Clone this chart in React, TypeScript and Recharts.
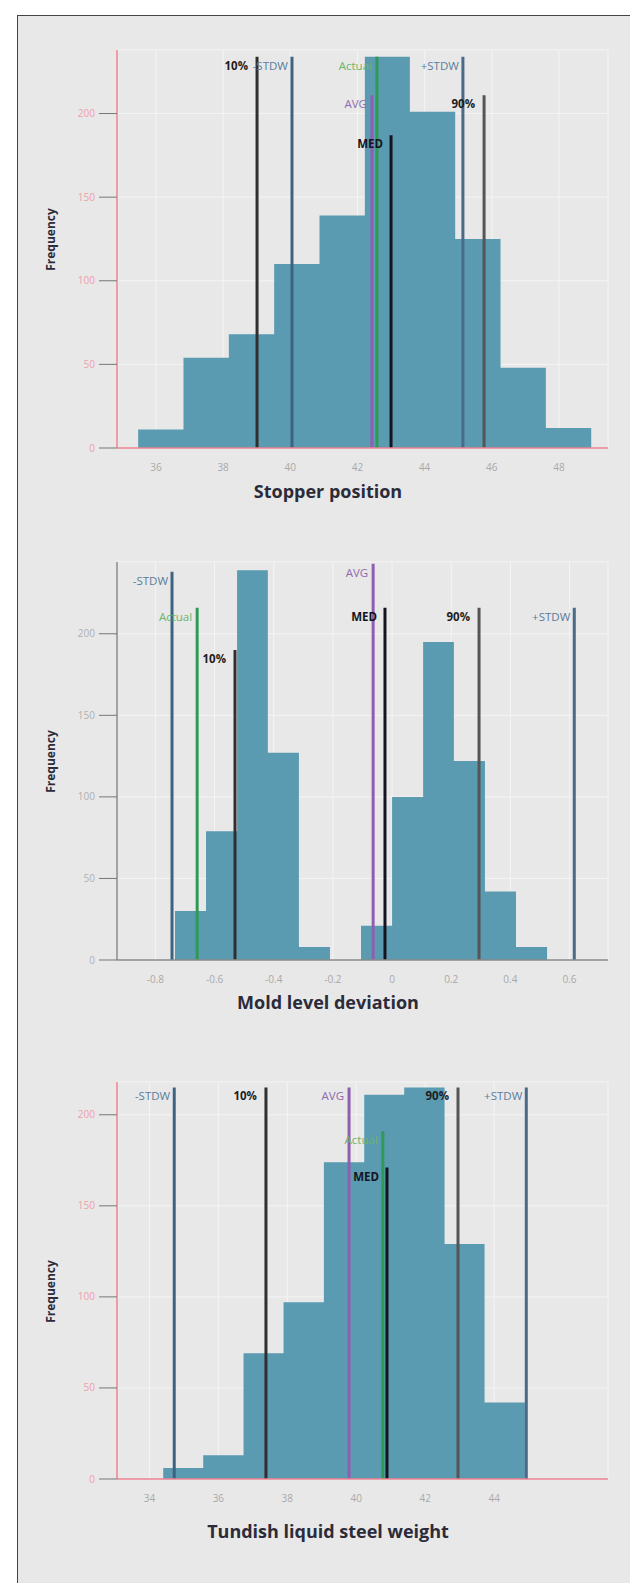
import React from 'react';
import { ComposedChart, Area, XAxis, YAxis, CartesianGrid, ReferenceLine } from 'recharts';

// Stopper position histogram
const stopperEdges = [35.47, 36.82, 38.17, 39.52, 40.87, 42.22, 43.56, 44.91, 46.26, 47.61, 48.96];
const stopperCounts = [11, 54, 68, 110, 139, 234, 201, 125, 48, 12];
const stopperTicks = [36, 38, 40, 42, 44, 46, 48];

// Mold level deviation histogram
const moldEdges = [-0.734, -0.629, -0.524, -0.42, -0.315, -0.21, -0.105, 0, 0.105, 0.209, 0.314, 0.419, 0.524];
const moldCounts = [30, 79, 239, 127, 8, 0, 21, 100, 195, 122, 42, 8];
const moldTicks = [-0.8, -0.6, -0.4, -0.2, 0, 0.2, 0.4, 0.6];

// Tundish liquid steel weight histogram
const tundishEdges = [34.4, 35.56, 36.73, 37.89, 39.06, 40.23, 41.39, 42.56, 43.72, 44.89];
const tundishCounts = [6, 13, 69, 97, 174, 211, 215, 129, 42];
const tundishTicks = [34, 36, 38, 40, 42, 44];

const freqTicks = [0, 50, 100, 150, 200];

// marker lines, same order for every chart
const markerNames = ['10%', '-STDW', 'AVG', 'Actual', 'MED', '+STDW', '90%'];
const stopperMarkerX = [39.01, 40.05, 42.43, 42.58, 43.0, 45.14, 45.77];
const stopperMarkerTop = [234, 234, 211, 234, 187, 234, 211];
const moldMarkerX = [-0.531, -0.744, -0.064, -0.659, -0.024, 0.616, 0.294];
const moldMarkerTop = [190, 238, 243, 216, 216, 216, 216];
const tundishMarkerX = [37.38, 34.72, 39.79, 40.77, 40.89, 44.93, 42.95];
const tundishMarkerTop = [215, 215, 215, 191, 171, 215, 215];

const markerStyle: Record<string, { line: string; text: string; weight: number; gap: number }> = {
  '10%': { line: '#2f2f2f', text: '#1e1e1e', weight: 700, gap: 9 },
  '-STDW': { line: '#3d6380', text: '#5a7c9c', weight: 400, gap: 4 },
  AVG: { line: '#8e5fb0', text: '#8e6aae', weight: 400, gap: 5 },
  Actual: { line: '#2f9a55', text: '#6ab46c', weight: 400, gap: 5 },
  MED: { line: '#141420', text: '#141420', weight: 700, gap: 8 },
  '+STDW': { line: '#4a6a88', text: '#5a7c9c', weight: 400, gap: 4 },
  '90%': { line: '#555555', text: '#1e1e1e', weight: 700, gap: 9 },
};

const BAR = '#5a9bb1';
const FONT = '"Open Sans", Lato, sans-serif';

const markerLabel = (name: string) => (props: any) => {
  const vb = props.viewBox || {};
  const st = markerStyle[name];
  return (
    <text
      x={vb.x - st.gap}
      y={vb.y + 13}
      textAnchor="end"
      fill={st.text}
      fontSize={11.5}
      fontWeight={st.weight}
      fontFamily={FONT}
    >
      {name}
    </text>
  );
};

interface HistProps {
  edges: number[];
  counts: number[];
  ticks: number[];
  xDomain: [number, number];
  yMax: number;
  markerX: number[];
  markerTop: number[];
  plotTop: number;
  plotBottom: number;
  axisColor: string;
  yTickColor: string;
  title: string;
  titleY: number;
  freqY: number;
}

function Histogram(p: HistProps) {
  const data = p.edges.map((e, i) => ({ x: e, count: p.counts[Math.min(i, p.counts.length - 1)] }));
  const marginTop = 20;
  const height = marginTop + (p.plotBottom - p.plotTop) + 30;
  return (
    <>
      <div style={{ position: 'absolute', left: 0, top: p.plotTop - marginTop }}>
        <ComposedChart
          width={638}
          height={height}
          data={data}
          margin={{ top: marginTop, right: 30, bottom: 0, left: 57 }}
        >
          <CartesianGrid stroke="#f4f4f4" />
          <XAxis
            dataKey="x"
            type="number"
            domain={p.xDomain}
            ticks={p.ticks}
            allowDataOverflow
            height={30}
            tickLine={false}
            tickMargin={10}
            axisLine={{ stroke: p.axisColor, strokeWidth: 1.5 }}
            tick={{ fill: '#a8a8a8', fontSize: 10, fontFamily: FONT }}
          />
          <YAxis
            type="number"
            domain={[0, p.yMax]}
            ticks={freqTicks}
            allowDataOverflow
            width={60}
            tickSize={18}
            tickMargin={4}
            axisLine={{ stroke: p.axisColor, strokeWidth: 1.5 }}
            tickLine={{ stroke: '#777' }}
            tick={{ fill: p.yTickColor, fontSize: 10, fontFamily: FONT }}
          />
          <Area
            dataKey="count"
            type="stepAfter"
            fill={BAR}
            fillOpacity={1}
            stroke="none"
            dot={false}
            activeDot={false}
            isAnimationActive={false}
          />
          {markerNames.map((name, i) => (
            <ReferenceLine
              key={name}
              segment={[
                { x: p.markerX[i], y: 0 },
                { x: p.markerX[i], y: p.markerTop[i] },
              ]}
              stroke={markerStyle[name].line}
              strokeWidth={3}
              ifOverflow="visible"
              label={markerLabel(name)}
            />
          ))}
        </ComposedChart>
      </div>
      <div
        style={{
          position: 'absolute',
          left: 128,
          width: 400,
          top: p.titleY - 13,
          textAlign: 'center',
          fontFamily: FONT,
          fontWeight: 700,
          fontSize: 18,
          color: '#2b2b3a',
        }}
      >
        {p.title}
      </div>
      <div
        style={{
          position: 'absolute',
          left: -10,
          width: 120,
          top: p.freqY - 9,
          textAlign: 'center',
          transform: 'rotate(-90deg)',
          fontFamily: FONT,
          fontWeight: 700,
          fontSize: 12,
          color: '#2b2b3a',
        }}
      >
        Frequency
      </div>
    </>
  );
}

export default function App() {
  return (
    <div style={{ position: 'relative', width: 638, height: 1583 }}>
      <div
        style={{
          position: 'absolute',
          left: 9,
          top: 7,
          width: 626,
          height: 1569,
          boxSizing: 'border-box',
          border: '1px solid #444',
          background: '#e8e8e8',
        }}
      />
      <div style={{ position: 'absolute', left: -8, top: -8 }}>
        <Histogram
          edges={stopperEdges}
          counts={stopperCounts}
          ticks={stopperTicks}
          xDomain={[34.84, 49.46]}
          yMax={238}
          markerX={stopperMarkerX}
          markerTop={stopperMarkerTop}
          plotTop={50}
          plotBottom={448}
          axisColor="#ee8090"
          yTickColor="#eea0aa"
          title="Stopper position"
          titleY={492}
          freqY={240}
        />
        <Histogram
          edges={moldEdges}
          counts={moldCounts}
          ticks={moldTicks}
          xDomain={[-0.93, 0.73]}
          yMax={244}
          markerX={moldMarkerX}
          markerTop={moldMarkerTop}
          plotTop={562}
          plotBottom={960}
          axisColor="#8a8a8a"
          yTickColor="#b0b0b0"
          title="Mold level deviation"
          titleY={1003}
          freqY={762}
        />
        <Histogram
          edges={tundishEdges}
          counts={tundishCounts}
          ticks={tundishTicks}
          xDomain={[33.06, 47.3]}
          yMax={218}
          markerX={tundishMarkerX}
          markerTop={tundishMarkerTop}
          plotTop={1082}
          plotBottom={1479}
          axisColor="#ee8090"
          yTickColor="#eea0aa"
          title="Tundish liquid steel weight"
          titleY={1532}
          freqY={1292}
        />
      </div>
    </div>
  );
}
